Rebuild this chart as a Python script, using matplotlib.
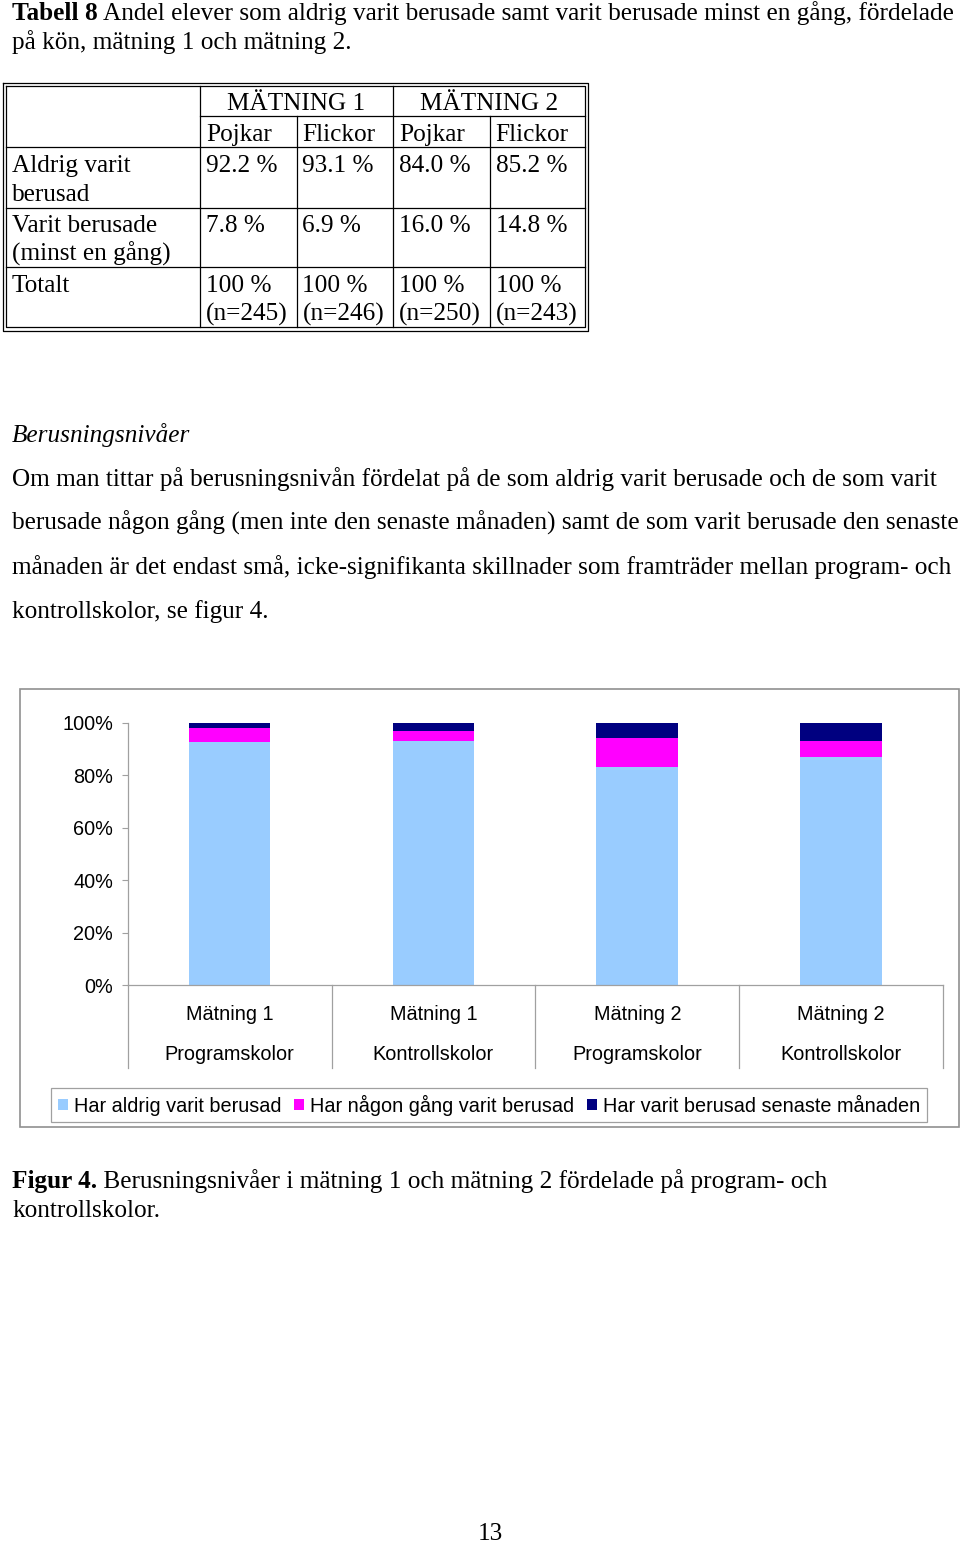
import matplotlib
matplotlib.use("Agg")
import matplotlib.pyplot as plt
from matplotlib.patches import Rectangle
import matplotlib.transforms as mtransforms

# --- data -----------------------------------------------------------------
table_groups = ["MÄTNING 1", "MÄTNING 2"]
table_sub = ["Pojkar", "Flickor", "Pojkar", "Flickor"]
row_labels = [["Aldrig varit", "berusad"], ["Varit berusade", "(minst en gång)"], ["Totalt"]]
never_pct = [92.2, 93.1, 84.0, 85.2]
ever_pct = [7.8, 6.9, 16.0, 14.8]
n_values = [245, 246, 250, 243]

cat_top = ["Mätning 1", "Mätning 1", "Mätning 2", "Mätning 2"]
cat_bottom = ["Programskolor", "Kontrollskolor", "Programskolor", "Kontrollskolor"]
never_drunk = [92.6, 93.0, 83.0, 86.8]
ever_drunk = [5.5, 3.8, 11.2, 6.1]
last_month = [1.9, 3.2, 5.8, 7.1]
series_labels = ["Har aldrig varit berusad", "Har någon gång varit berusad",
                 "Har varit berusad senaste månaden"]
series_colors = ["#99CCFF", "#FF00FF", "#000080"]
y_ticks = [0, 20, 40, 60, 80, 100]

body_lines = [
    "Om man tittar på berusningsnivån fördelat på de som aldrig varit berusade och de som varit",
    "berusade någon gång (men inte den senaste månaden) samt de som varit berusade den senaste",
    "månaden är det endast små, icke-signifikanta skillnader som framträder mellan program- och",
    "kontrollskolor, se figur 4.",
]

W, H = 960, 1543
serif = "Liberation Serif"
sans = "Liberation Sans"
fs = 18.2
cfs = 14.3

fig = plt.figure(figsize=(W / 100, H / 100), dpi=100)
bg = fig.add_axes([0, 0, 1, 1])
bg.set_xlim(0, W)
bg.set_ylim(H, 0)
bg.axis("off")
renderer = fig.canvas.get_renderer()


def bold_then_normal(x, y, bold, rest):
    t = bg.text(x, y, bold, family=serif, fontsize=fs, weight="bold", va="baseline")
    bb = t.get_window_extent(renderer)
    x2 = bg.transData.inverted().transform((bb.x1, bb.y0))[0]
    bg.text(x2, y, rest, family=serif, fontsize=fs, va="baseline")


# title of table
bold_then_normal(12, 20, "Tabell 8", " Andel elever som aldrig varit berusade samt varit berusade minst en gång, fördelade")
bg.text(12, 49, "på kön, mätning 1 och mätning 2.", family=serif, fontsize=fs, va="baseline")

# table borders
lw = 0.9
for (x0, y0, x1, y1) in [(2.5, 82.5, 588, 330.5), (6, 86, 584.5, 327)]:
    bg.plot([x0, x1, x1, x0, x0], [y0, y0, y1, y1, y0], color="black", lw=lw)
col_x = [200, 296.5, 393, 489.5]
row_y = [116, 147, 207.5, 267]
bg.plot([200, 200], [86, 327], color="black", lw=lw)
bg.plot([393, 393], [86, 327], color="black", lw=lw)
bg.plot([296.5, 296.5], [116, 327], color="black", lw=lw)
bg.plot([489.5, 489.5], [116, 327], color="black", lw=lw)
bg.plot([200, 584.5], [116, 116], color="black", lw=lw)
for y in row_y[1:]:
    bg.plot([6, 584.5], [y, y], color="black", lw=lw)

# table text
bg.text(296.5, 110, table_groups[0], family=serif, fontsize=fs, ha="center", va="baseline")
bg.text(489.5, 110, table_groups[1], family=serif, fontsize=fs, ha="center", va="baseline")
for i, s in enumerate(table_sub):
    bg.text(col_x[i] + 6, 141, s, family=serif, fontsize=fs, va="baseline")
row_base = [172, 232, 292]
for r, lab in enumerate(row_labels):
    for k, s in enumerate(lab):
        bg.text(12, row_base[r] + 29 * k, s, family=serif, fontsize=fs, va="baseline")
for i in range(4):
    bg.text(col_x[i] + 6, row_base[0], f"{never_pct[i]:.1f} %", family=serif, fontsize=fs, va="baseline")
    bg.text(col_x[i] + 6, row_base[1], f"{ever_pct[i]:.1f} %", family=serif, fontsize=fs, va="baseline")
    bg.text(col_x[i] + 6, row_base[2], "100 %", family=serif, fontsize=fs, va="baseline")
    bg.text(col_x[i] + 6, row_base[2] + 29, f"(n={n_values[i]})", family=serif, fontsize=fs, va="baseline")

# body text
bg.text(12, 442, "Berusningsnivåer", family=serif, fontsize=fs, style="italic", va="baseline")
for i, line in enumerate(body_lines):
    bg.text(12, 486 + 44 * i, line, family=serif, fontsize=fs, va="baseline")

# chart frame
bg.add_patch(Rectangle((20, 689), 939, 438, fill=False, edgecolor="#909090", lw=1.2))

# chart
ax_l, ax_r, ax_t, ax_b = 127.7, 943, 722.7, 985
ax = fig.add_axes([ax_l / W, 1 - ax_b / H, (ax_r - ax_l) / W, (ax_b - ax_t) / H])
x = list(range(len(cat_top)))
b1 = ax.bar(x, never_drunk, width=0.4, color=series_colors[0], label=series_labels[0])
bot2 = never_drunk
b2 = ax.bar(x, ever_drunk, width=0.4, bottom=bot2, color=series_colors[1], label=series_labels[1])
bot3 = [a + b for a, b in zip(never_drunk, ever_drunk)]
b3 = ax.bar(x, last_month, width=0.4, bottom=bot3, color=series_colors[2], label=series_labels[2])
ax.set_xlim(-0.5, len(cat_top) - 0.5)
ax.set_ylim(0, 100)
ax.set_yticks(y_ticks)
ax.set_yticklabels([f"{v}%" for v in y_ticks], family=sans, fontsize=cfs)
ax.tick_params(axis="y", direction="out", length=4, color="#a0a0a0", pad=6.5)
ax.set_xticks([])
for s in ["top", "right"]:
    ax.spines[s].set_visible(False)
for s in ["left", "bottom"]:
    ax.spines[s].set_color("#a0a0a0")
    ax.spines[s].set_linewidth(0.9)

trans = mtransforms.blended_transform_factory(ax.transData, ax.transAxes)
sep_bottom = -(1068 - ax_b) / (ax_b - ax_t)
for k in range(len(cat_top) + 1):
    ax.plot([k - 0.5, k - 0.5], [0, sep_bottom], transform=trans, color="#a0a0a0",
            lw=0.9, clip_on=False)
for i in x:
    ax.text(i, -(1015 - ax_b) / (ax_b - ax_t), cat_top[i], transform=trans, ha="center",
            va="center", family=sans, fontsize=cfs)
    ax.text(i, -(1055 - ax_b) / (ax_b - ax_t), cat_bottom[i], transform=trans, ha="center",
            va="center", family=sans, fontsize=cfs)

leg = fig.legend(handles=[b1, b2, b3], loc="center", ncol=3,
                 bbox_to_anchor=(489 / W, 1 - 1105 / H), prop={"family": sans, "size": cfs},
                 frameon=True, fancybox=False, edgecolor="#a0a0a0", framealpha=1,
                 handlelength=0.5, handleheight=0.5, handletextpad=0.3, columnspacing=0.65,
                 borderpad=0.35, borderaxespad=0)
leg.get_frame().set_linewidth(0.9)

# caption and page number
bold_then_normal(12, 1188, "Figur 4.", " Berusningsnivåer i mätning 1 och mätning 2 fördelade på program- och")
bg.text(12, 1217, "kontrollskolor.", family=serif, fontsize=fs, va="baseline")
bg.text(490, 1540, "13", family=serif, fontsize=fs, ha="center", va="baseline")

fig.savefig("out.png", dpi=100)
